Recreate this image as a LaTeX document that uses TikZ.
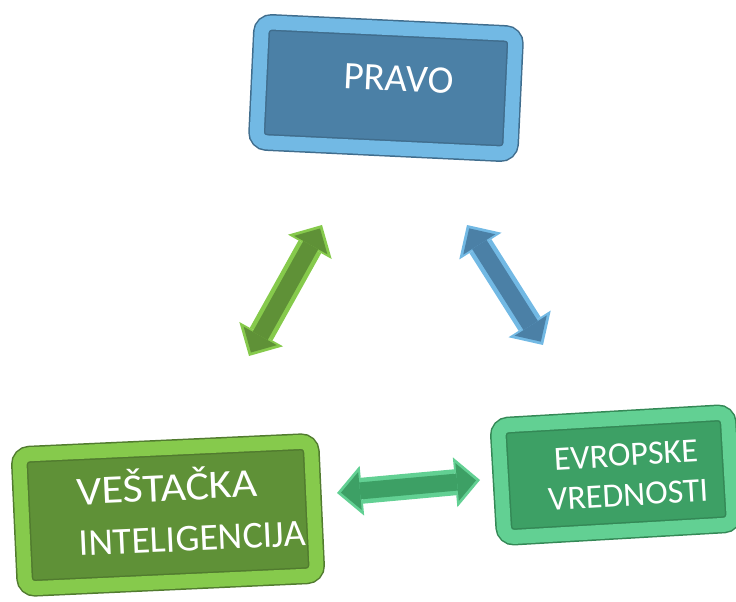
\documentclass[tikz,border=0pt]{standalone}
\usepackage{fontspec}
\setmainfont{Carlito}
\usetikzlibrary{arrows.meta}

\definecolor{pravoface}{HTML}{4B80A6}
\definecolor{pravoedge}{HTML}{72B9E4}
\definecolor{aiface}{HTML}{5F9137}
\definecolor{aiedge}{HTML}{86CA4C}
\definecolor{evface}{HTML}{3DA065}
\definecolor{evedge}{HTML}{62D093}

\tikzset{
  box/.style 2 args={fill=#1, draw=#1!85!black, double=#2, double distance=14pt,
    line width=1.5pt, rounded corners=10pt, inner sep=0pt},
  lbl/.style={text=white, inner sep=0pt},
  fat/.style n args={4}{draw=#1, line width=#2,
    {Triangle[width=#3,length=#4,line width=0pt]}-{Triangle[width=#3,length=#4,line width=0pt]}},
}

\begin{document}
\begin{tikzpicture}[x=1pt, y=1pt]
  \useasboundingbox (0,0) rectangle (736,602);

  % the three boxes
  \node[box={pravoface}{pravoedge}, minimum width=254pt, minimum height=120pt, rotate=-2.7] (pravo) at (386,514) {};
  \node[box={aiface}{aiedge}, minimum width=292pt, minimum height=134pt, rotate=2.6] (ai) at (168,87) {};
  \node[box={evface}{evedge}, minimum width=230pt, minimum height=112pt, rotate=3.3] (ev) at (616,127) {};

  \node[lbl, font=\fontsize{39}{47}\selectfont, rotate=-2.7] (pravo-t) at ([shift={(13,9)}]pravo.center) {PRAVO};
  \node[lbl, align=left, font=\fontsize{38}{51}\selectfont, rotate=2.6] (ai-t) at ([shift={(23,6)}]ai.center)
    {\scalebox{1.16}[1.06]{VEŠTAČKA}\\INTELIGENCIJA};
  \node[lbl, align=center, font=\fontsize{34}{40}\selectfont, rotate=3.3] (ev-t) at ([shift={(11,0)}]ev.center) {EVROPSKE\\VREDNOSTI};

  % arrow ends
  \coordinate (g1) at (249,246);
  \coordinate (g2) at (322,377);
  \coordinate (b1) at (467,377);
  \coordinate (b2) at (543,257);
  \coordinate (e1) at (337,109);
  \coordinate (e2) at (480,122);

  \foreach \p/\q/\edge/\face in {g1/g2/aiedge/aiface, b1/b2/pravoedge/pravoface, e1/e2/evedge/evface} {
    \draw[fat={\edge}{26pt}{50pt}{25pt}] (\p) -- (\q);
    \draw[fat={\face}{17pt}{38pt}{19pt}, shorten <=4pt, shorten >=4pt] (\p) -- (\q);
  }
\end{tikzpicture}
\end{document}
